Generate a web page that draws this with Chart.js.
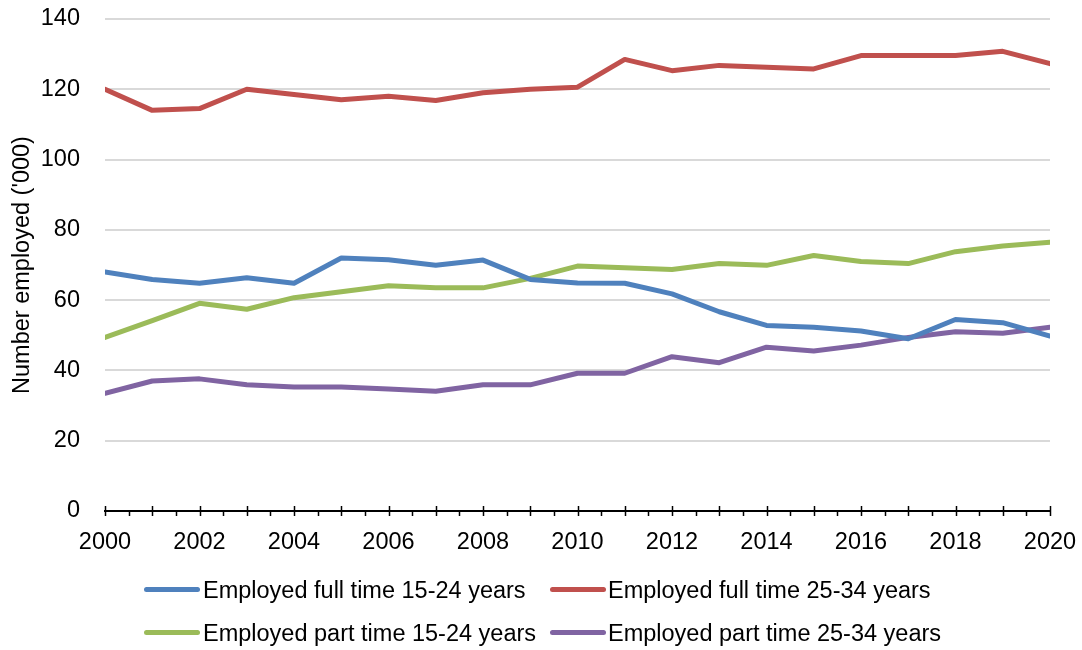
<!DOCTYPE html>
<html>
<head>
<meta charset="utf-8">
<script src="https://cdn.jsdelivr.net/npm/chart.js@4.4.1/dist/chart.umd.min.js"></script>
<style>
  body { margin: 0; background: #fff; }
  #wrap { position: relative; width: 1082px; height: 650px; }
  .item { position: absolute; height: 30px; font: 23.5px "Liberation Sans", Arial, sans-serif; color: #000; white-space: nowrap; }
  .item .swatch { position: absolute; left: 0; top: 12px; width: 56px; height: 5px; border-radius: 3px; }
  .item .txt { position: absolute; top: 0; line-height: 30px; }
</style>
</head>
<body>
<div id="wrap">
  <canvas id="chart" width="1082" height="650"></canvas>
  <div id="legend"></div>
</div>
<script>
// data
const years = [2000, 2001, 2002, 2003, 2004, 2005, 2006, 2007, 2008, 2009, 2010,
               2011, 2012, 2013, 2014, 2015, 2016, 2017, 2018, 2019, 2020];

const fullTime1524 = [68, 65.9, 64.8, 66.4, 64.8, 72, 71.5, 69.9, 71.4, 65.9, 64.9,
                      64.8, 61.8, 56.7, 52.8, 52.3, 51.2, 49, 54.5, 53.6, 49.8];
const fullTime2534 = [120, 114, 114.5, 120, 118.5, 117, 118, 116.8, 119, 120, 120.6,
                      128.5, 125.3, 126.8, 126.3, 125.8, 129.6, 129.6, 129.6, 130.8, 127.3];
const partTime1524 = [49.4, 54.2, 59.1, 57.4, 60.7, 62.4, 64.1, 63.5, 63.5, 66.2, 69.7,
                      69.2, 68.7, 70.4, 69.9, 72.7, 71, 70.4, 73.8, 75.4, 76.5];
const partTime2534 = [33.5, 37, 37.6, 35.9, 35.3, 35.3, 34.7, 34.1, 35.9, 35.9, 39.2,
                      39.2, 43.9, 42.2, 46.6, 45.5, 47.2, 49.4, 51, 50.6, 52.3];

const seriesNames = [
  "Employed full time 15-24 years",
  "Employed full time 25-34 years",
  "Employed part time 15-24 years",
  "Employed part time 25-34 years"
];
const seriesColors = ["#4F81BD", "#C0504D", "#9BBB59", "#8064A2"];
const seriesValues = [fullTime1524, fullTime2534, partTime1524, partTime2534];

const FONT = '"Liberation Sans", Arial, sans-serif';

const datasets = seriesValues.map((vals, i) => ({
  label: seriesNames[i],
  data: years.map((yr, j) => ({ x: yr, y: vals[j] })),
  borderColor: seriesColors[i],
  backgroundColor: seriesColors[i],
  borderWidth: 5,
  borderJoinStyle: "round",
  borderCapStyle: "round",
  pointRadius: 0,
  tension: 0
}));

// x axis tick marks: long ones each year, short ones at half years
const axisTicks = {
  id: "axisTicks",
  afterDraw(chart) {
    const { ctx } = chart;
    const xs = chart.scales.x;
    const y0 = chart.chartArea.bottom;
    ctx.save();
    ctx.strokeStyle = "#000";
    ctx.lineWidth = 1.5;
    for (let v = years[0]; v <= years[years.length - 1]; v += 0.5) {
      const x = Math.round(xs.getPixelForValue(v)) + 0.5;
      ctx.beginPath();
      if (Number.isInteger(v)) {
        ctx.moveTo(x, y0 - 5);
        ctx.lineTo(x, y0 + 5);
      } else {
        ctx.moveTo(x, y0);
        ctx.lineTo(x, y0 + 5);
      }
      ctx.stroke();
    }
    ctx.restore();
  }
};

chart = new Chart(document.getElementById("chart").getContext("2d"), {
  type: "line",
  data: { datasets },
  options: {
    responsive: false,
    devicePixelRatio: 1,
    animation: false,
    layout: { padding: { left: 0, right: 32, top: 19, bottom: 0 } },
    plugins: {
      legend: { display: false },
      tooltip: { enabled: false }
    },
    scales: {
      x: {
        type: "linear",
        min: 2000,
        max: 2020,
        afterFit: (s) => { s.height = 139; s.paddingLeft = 0; s.paddingRight = 0; },
        grid: { display: false, drawTicks: false },
        border: { display: true, color: "#000", width: 2 },
        ticks: {
          stepSize: 2,
          padding: 17,
          color: "#000",
          font: { family: FONT, size: 23.5 },
          maxRotation: 0,
          callback: (v) => String(v)
        }
      },
      y: {
        min: 0,
        max: 140,
        afterFit: (s) => { s.width = 105; s.paddingTop = 0; s.paddingBottom = 0; },
        grid: {
          drawTicks: false,
          lineWidth: 2,
          color: (c) => c.tick && c.tick.value === 0 ? "rgba(0,0,0,0)" : "#d9d9d9"
        },
        border: { display: false },
        ticks: {
          stepSize: 20,
          padding: 25,
          color: "#000",
          font: { family: FONT, size: 23.5 }
        },
        title: {
          display: true,
          text: "Number employed ('000)",
          color: "#000",
          font: { family: FONT, size: 23.5 },
          padding: { top: 8, bottom: 0 }
        }
      }
    }
  },
  plugins: [axisTicks]
});

// legend (two rows, two columns like the original)
const legendPos = [
  { left: 144, top: 575 },
  { left: 550, top: 575 },
  { left: 144, top: 618 },
  { left: 550, top: 618 }
];
const legend = document.getElementById("legend");
seriesNames.forEach((name, i) => {
  const div = document.createElement("div");
  div.className = "item";
  div.style.left = legendPos[i].left + "px";
  div.style.top = legendPos[i].top + "px";
  div.innerHTML = `<div class="swatch" style="background:${seriesColors[i]}"></div>
    <div class="txt" style="left:${i % 2 ? 58 : 59}px">${name}</div>`;
  legend.appendChild(div);
});
</script>
</body>
</html>
